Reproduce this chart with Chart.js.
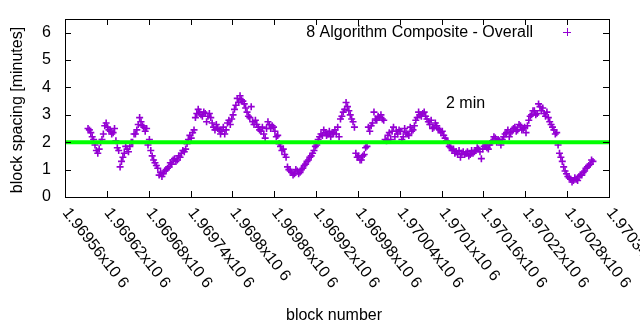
<!DOCTYPE html>
<html>
<head>
    <title>Block spacing</title>
    <script src="https://cdn.jsdelivr.net/npm/chart.js"></script>
    <style>
        body { margin: 0; background: #fff; }
    </style>
</head>
<body>
    <canvas id="spacingChart" width="640" height="330"></canvas>

    <script>
        // block numbers (x) and the composite spacing in minutes (y)
        const blocks = [
            1969593, 1969597, 1969601, 1969605, 1969609, 1969613, 1969617, 1969621, 1969625, 1969629,
            1969633, 1969637, 1969641, 1969645, 1969649, 1969653, 1969657, 1969661, 1969665, 1969669,
            1969673, 1969677, 1969681, 1969685, 1969689, 1969693, 1969697, 1969701, 1969705, 1969709,
            1969713, 1969717, 1969721, 1969725, 1969729, 1969733, 1969737, 1969741, 1969745, 1969749,
            1969753, 1969757, 1969761, 1969765, 1969769, 1969773, 1969777, 1969781, 1969785, 1969789,
            1969793, 1969797, 1969801, 1969805, 1969809, 1969813, 1969817, 1969821, 1969825, 1969829,
            1969833, 1969837, 1969841, 1969845, 1969849, 1969853, 1969857, 1969861, 1969865, 1969869,
            1969873, 1969877, 1969881, 1969885, 1969889, 1969893, 1969897, 1969901, 1969905, 1969909,
            1969913, 1969917, 1969921, 1969925, 1969929, 1969933, 1969937, 1969941, 1969945, 1969949,
            1969953, 1969957, 1969961, 1969965, 1969969, 1969973, 1969977, 1969981, 1969985, 1969989,
            1969993, 1969997, 1970001, 1970005, 1970009, 1970013, 1970017, 1970021, 1970025, 1970029,
            1970033, 1970037, 1970041, 1970045, 1970049, 1970053, 1970057, 1970061, 1970065, 1970069,
            1970073, 1970077, 1970081, 1970085, 1970089, 1970093, 1970097, 1970101, 1970105, 1970109,
            1970113, 1970117, 1970121, 1970125, 1970129, 1970133, 1970137, 1970141, 1970145, 1970149,
            1970153, 1970157, 1970161, 1970165, 1970169, 1970173, 1970177, 1970181, 1970185, 1970189,
            1970193, 1970197, 1970201, 1970205, 1970209, 1970213, 1970217, 1970221, 1970225, 1970229,
            1970233, 1970237, 1970241, 1970245, 1970249, 1970253, 1970257, 1970261, 1970265, 1970269,
            1970273, 1970277, 1970281, 1970285, 1970289, 1970293, 1970297, 1970301, 1970305, 1970309,
            1970313, 1970317,
            1969595, 1969599, 1969603, 1969607, 1969611, 1969615, 1969619, 1969623, 1969627, 1969631,
            1969635, 1969639, 1969643, 1969647, 1969651, 1969655, 1969659, 1969663, 1969667, 1969671,
            1969675, 1969679, 1969683, 1969687, 1969691, 1969695, 1969699, 1969703, 1969707, 1969711,
            1969715, 1969719, 1969723, 1969727, 1969731, 1969735, 1969739, 1969743, 1969747, 1969751,
            1969755, 1969759, 1969763, 1969767, 1969771, 1969775, 1969779, 1969783, 1969787, 1969791,
            1969795, 1969799, 1969803, 1969807, 1969811, 1969815, 1969819, 1969823, 1969827, 1969831,
            1969835, 1969839, 1969843, 1969847, 1969851, 1969855, 1969859, 1969863, 1969867, 1969871,
            1969875, 1969879, 1969883, 1969887, 1969891, 1969895, 1969899, 1969903, 1969907, 1969911,
            1969915, 1969919, 1969923, 1969927, 1969931, 1969935, 1969939, 1969943, 1969947, 1969951,
            1969955, 1969959, 1969963, 1969967, 1969971, 1969975, 1969979, 1969983, 1969987, 1969991,
            1969995, 1969999, 1970003, 1970007, 1970011, 1970015, 1970019, 1970023, 1970027, 1970031,
            1970035, 1970039, 1970043, 1970047, 1970051, 1970055, 1970059, 1970063, 1970067, 1970071,
            1970075, 1970079, 1970083, 1970087, 1970091, 1970095, 1970099, 1970103, 1970107, 1970111,
            1970115, 1970119, 1970123, 1970127, 1970131, 1970135, 1970139, 1970143, 1970147, 1970151,
            1970155, 1970159, 1970163, 1970167, 1970171, 1970175, 1970179, 1970183, 1970187, 1970191,
            1970195, 1970199, 1970203, 1970207, 1970211, 1970215, 1970219, 1970223, 1970227, 1970231,
            1970235, 1970239, 1970243, 1970247, 1970251, 1970255, 1970259, 1970263, 1970267, 1970271,
            1970275, 1970279, 1970283, 1970287, 1970291, 1970295, 1970299, 1970303, 1970307, 1970311,
            1970315
        ];
        const spacing = [
            2.5, 2.35, 2.1, 1.7, 1.75, 2.1, 2.6, 2.55, 2.4, 2.35,
            2.05, 1.7, 1.3, 1.6, 1.75, 1.85, 2.0, 2.3, 2.65, 2.75,
            2.55, 2.5, 2.1, 1.5, 1.25, 1.05, 0.9, 0.85, 1.0, 1.1,
            1.2, 1.4, 1.35, 1.45, 1.7, 1.75, 2.1, 2.15, 2.45, 3.05,
            3.1, 2.95, 3.05, 2.95, 2.9, 2.55, 2.65, 2.45, 2.4, 2.3,
            2.7, 2.65, 3.0, 3.35, 3.45, 3.55, 3.4, 3.1, 2.9, 2.75,
            2.8, 2.55, 2.4, 2.3, 2.5, 2.65, 2.6, 2.4, 2.25, 1.85,
            1.75, 1.45, 1.0, 0.9, 0.85, 0.95, 0.9, 1.05, 1.2, 1.35,
            1.5, 1.7, 1.9, 2.2, 2.25, 2.35, 2.3, 2.2, 2.35, 2.3,
            2.2, 2.95, 3.2, 3.3, 3.0, 2.75, 1.6, 1.5, 1.35, 1.55,
            1.85, 2.4, 2.7, 2.85, 2.95, 3.0, 2.8, 2.05, 2.35, 2.4,
            2.2, 2.3, 2.4, 2.2, 2.35, 2.25, 2.4, 2.6, 2.9, 3.0,
            3.05, 2.95, 2.75, 2.8, 2.55, 2.6, 2.45, 2.4, 2.15, 2.0,
            1.8, 1.75, 1.65, 1.7, 1.6, 1.55, 1.65, 1.55, 1.6, 1.7,
            1.75, 1.4, 1.85, 1.8, 1.9, 2.05, 2.15, 2.1, 1.9, 2.2,
            2.35, 2.2, 2.4, 2.55, 2.45, 2.6, 2.5, 2.35, 2.8, 3.0,
            3.15, 3.05, 3.3, 3.25, 2.95, 2.9, 2.65, 2.45, 2.35, 1.6,
            1.3, 0.95, 0.75, 0.65, 0.6, 0.65, 0.75, 0.8, 0.95, 1.1,
            1.2, 1.3,
            2.45, 2.2, 1.9, 1.6, 2.0, 2.3, 2.7, 2.45, 2.3, 2.5,
            1.8, 1.1, 1.45, 1.85, 1.65, 2.0, 2.3, 2.45, 2.9, 2.6,
            2.4, 1.9, 1.7, 1.35, 1.15, 0.8, 0.75, 0.95, 1.05, 1.25,
            1.35, 1.3, 1.5, 1.6, 1.65, 1.95, 2.25, 2.35, 2.9, 3.2,
            3.0, 3.1, 2.75, 3.05, 2.7, 2.45, 2.5, 2.3, 2.55, 2.45,
            2.8, 2.85, 3.2, 3.6, 3.7, 3.5, 3.25, 2.95, 3.3, 2.65,
            2.65, 2.45, 2.55, 2.15, 2.75, 2.5, 2.55, 2.2, 1.95, 1.7,
            1.55, 1.1, 0.95, 0.8, 1.0, 0.85, 1.0, 1.15, 1.3, 1.45,
            1.6, 1.85, 2.1, 2.3, 2.45, 2.25, 2.4, 2.3, 2.45, 2.55,
            2.85, 3.1, 3.45, 3.15, 2.85, 2.55, 1.45, 1.35, 1.5, 1.8,
            2.55, 2.6, 3.1, 2.8, 2.9, 2.85, 2.1, 2.25, 2.1, 2.55,
            2.4, 2.45, 2.1, 2.5, 2.3, 2.55, 2.45, 2.8, 3.1, 2.95,
            3.1, 2.85, 2.65, 2.5, 2.7, 2.5, 2.35, 2.25, 2.05, 1.85,
            1.7, 1.6, 1.55, 1.45, 1.65, 1.6, 1.5, 1.7, 1.65, 1.8,
            1.65, 1.75, 1.9, 1.75, 2.0, 2.2, 2.0, 2.05, 2.1, 2.3,
            2.45, 2.35, 2.5, 2.4, 2.65, 2.45, 2.55, 2.6, 2.95, 3.15,
            3.0, 3.4, 3.15, 3.05, 3.1, 2.75, 2.55, 2.3, 1.9, 1.45,
            1.1, 0.85, 0.7, 0.55, 0.7, 0.6, 0.8, 0.9, 1.05, 1.15,
            1.35
        ];
        // target line
        const targetLine = [2, 2];
        const xRange = [1969560, 1970340];
        const yRange = [0, 6.5];

        const xTicks = [1969560, 1969620, 1969680, 1969740, 1969800, 1969860, 1969920,
                        1969980, 1970040, 1970100, 1970160, 1970220, 1970280, 1970340];
        const xTickLabels = ["1.96956x10 6", "1.96962x10 6", "1.96968x10 6", "1.96974x10 6",
                             "1.9698x10 6", "1.96986x10 6", "1.96992x10 6", "1.96998x10 6",
                             "1.97004x10 6", "1.9701x10 6", "1.97016x10 6", "1.97022x10 6",
                             "1.97028x10 6", "1.97034x10 6"];
        const yTicks = [0, 1, 2, 3, 4, 5, 6];

        const FONT = '16px "Liberation Sans", Arial, sans-serif';
        const PURPLE = '#9400d3';

        const points = blocks.map((b, i) => ({ x: b, y: spacing[i] }));

        // gnuplot style frame, inward ticks, labels, key
        const gnuplotFrame = {
            id: 'gnuplotFrame',
            afterDatasetsDraw(chart) {
                const ctx = chart.ctx;
                const area = chart.chartArea;
                const xs = chart.scales.x;
                const ys = chart.scales.y;
                const tick = 6;

                ctx.save();
                ctx.strokeStyle = '#000';
                ctx.lineWidth = 1;
                ctx.beginPath();
                xTicks.forEach(v => {
                    const px = Math.round(xs.getPixelForValue(v)) + 0.5;
                    ctx.moveTo(px, area.bottom); ctx.lineTo(px, area.bottom - tick);
                    ctx.moveTo(px, area.top); ctx.lineTo(px, area.top + tick);
                });
                yTicks.forEach(v => {
                    const py = Math.round(ys.getPixelForValue(v)) + 0.5;
                    ctx.moveTo(area.left, py); ctx.lineTo(area.left + tick, py);
                    ctx.moveTo(area.right, py); ctx.lineTo(area.right - tick, py);
                });
                ctx.stroke();
                ctx.strokeRect(Math.round(area.left) + 0.5, Math.round(area.top) + 0.5,
                    Math.round(area.right - area.left), Math.round(area.bottom - area.top));

                ctx.fillStyle = '#000';
                ctx.font = FONT;

                // y tick labels
                ctx.textAlign = 'right';
                ctx.textBaseline = 'middle';
                yTicks.forEach(v => {
                    ctx.fillText(String(v), area.left - 14, ys.getPixelForValue(v));
                });

                // x tick labels, turned clockwise
                ctx.textAlign = 'left';
                xTicks.forEach((v, i) => {
                    ctx.save();
                    ctx.translate(xs.getPixelForValue(v) + 0.5, area.bottom + 13);
                    ctx.rotate(52 * Math.PI / 180);
                    ctx.fillText(xTickLabels[i], 0, 0);
                    ctx.restore();
                });

                // axis titles
                ctx.textAlign = 'center';
                ctx.fillText('block number', 334, 316);
                ctx.save();
                ctx.translate(18, 110);
                ctx.rotate(-Math.PI / 2);
                ctx.fillText('block spacing [minutes]', 0, 0);
                ctx.restore();

                // key
                ctx.textBaseline = 'alphabetic';
                ctx.textAlign = 'right';
                ctx.fillText('8 Algorithm Composite - Overall', 533, 37);
                ctx.strokeStyle = PURPLE;
                ctx.beginPath();
                ctx.moveTo(563, 32.5); ctx.lineTo(571, 32.5);
                ctx.moveTo(567.5, 28); ctx.lineTo(567.5, 36);
                ctx.stroke();

                // label for the target line
                ctx.textAlign = 'left';
                ctx.fillText('2 min', 446, 108);
                ctx.restore();
            }
        };

        new Chart(document.getElementById('spacingChart'), {
            type: 'scatter',
            data: {
                datasets: [
                    {
                        label: '2 min',
                        type: 'line',
                        data: xRange.map((x, i) => ({ x: x, y: targetLine[i] })),
                        borderColor: '#00ff00',
                        borderWidth: 4,
                        pointRadius: 0,
                        order: 0
                    },
                    {
                        label: '8 Algorithm Composite - Overall',
                        data: points,
                        pointStyle: 'cross',
                        pointRadius: 3.5,
                        borderColor: PURPLE,
                        backgroundColor: PURPLE,
                        borderWidth: 1.6,
                        order: 1
                    }
                ]
            },
            options: {
                responsive: false,
                animation: false,
                devicePixelRatio: 1,
                layout: { padding: { top: 19, right: 31, left: 0, bottom: 0 } },
                plugins: { legend: { display: false }, tooltip: { enabled: false } },
                scales: {
                    x: {
                        type: 'linear',
                        min: xRange[0],
                        max: xRange[1],
                        ticks: { display: false },
                        grid: { display: false },
                        border: { display: false },
                        afterFit: s => { s.height = 133; }
                    },
                    y: {
                        min: yRange[0],
                        max: yRange[1],
                        ticks: { display: false },
                        grid: { display: false },
                        border: { display: false },
                        afterFit: s => { s.width = 65; }
                    }
                }
            },
            plugins: [gnuplotFrame]
        });
    </script>
</body>
</html>
